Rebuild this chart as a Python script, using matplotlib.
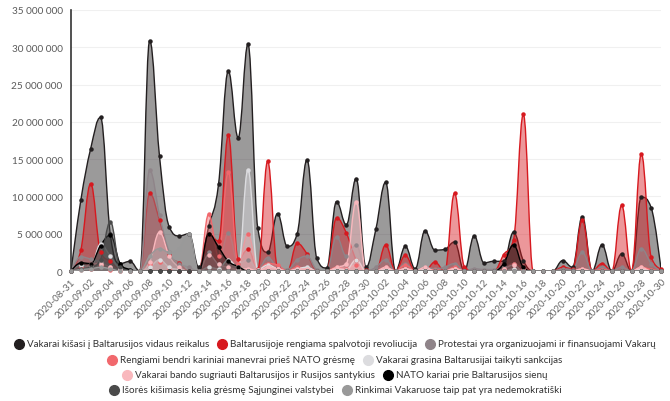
import numpy as np
import matplotlib
matplotlib.use('Agg')
import matplotlib.pyplot as plt
from matplotlib.path import Path
from matplotlib.patches import PathPatch
from matplotlib.lines import Line2D
from matplotlib.ticker import FuncFormatter, MultipleLocator
import pandas as pd

FONT = 'Lato'

# ---------------- data (values in millions) ----------------
dates = pd.date_range('2020-08-31', '2020-10-30', freq='D')
date_labels = [d.strftime('%Y-%m-%d') for d in dates]

series_names = [
    'Vakarai kišasi į Baltarusijos vidaus reikalus',
    'Baltarusijoje rengiama spalvotoji revoliucija',
    'Protestai yra organizuojami ir finansuojami Vakarų',
    'Rengiami bendri kariniai manevrai prieš NATO grėsmę',
    'Vakarai grasina Baltarusijai taikyti sankcijas',
    'Vakarai bando sugriauti Baltarusijos ir Rusijos santykius',
    'NATO kariai prie Baltarusijos sienų',
    'Išorės kišimasis kelia grėsmę Sąjunginei valstybei',
    'Rinkimai Vakaruose taip pat yra nedemokratiški',
]
series_colors = ['#231f20', '#d7191f', '#8f8489', '#f1686d', '#dcdcdf',
                 '#f9b8bd', '#000000', '#4a4a4a', '#999999']

vakarai_kisasi = [0, 9.5, 16.4, 20.6, 4.9, 1.0, 1.3, 0, 30.9, 15.4,
                  5.9, 4.7, 5.0, 0.5, 6.0, 11.6, 26.8, 17.9, 30.4, 5.7,
                  2.5, 7.7, 3.3, 5.0, 14.9, 1.7, 0.4, 9.3, 6.2, 12.4,
                  0.5, 5.6, 11.9, 0, 3.3, 0.3, 5.4, 2.8, 2.9, 3.9,
                  0, 4.7, 1.1, 1.3, 1.3, 5.2, 1.4, 0, 0, 0,
                  1.4, 0.5, 7.3, 0, 3.5, 0, 2.3, 0, 9.9, 8.5, 0.2]
spalvotoji_revoliucija = [0, 2.8, 11.7, 2.6, 1.3, 0.2, 0, 0, 10.4, 6.8,
                          2.2, 1.1, 0, 0, 5.0, 4.0, 18.2, 1.6, 2.9, 0.3,
                          14.7, 0.5, 0, 3.7, 2.3, 0, 0, 7.1, 5.1, 1.5,
                          0.2, 0, 3.5, 0, 2.1, 0, 0, 1.2, 0, 10.4,
                          0.6, 0, 0, 0, 2.2, 4.2, 21.0, 0, 0, 0,
                          0.5, 0.3, 6.8, 0, 1.0, 0, 8.8, 0, 15.7, 1.9, 0.3]
protestai = [0, 1.9, 1.6, 1.2, 0.5, 0.2, 0, 0, 13.5, 7.5,
             2.5, 1.0, 0.5, 0, 2.5, 1.0, 5.1, 1.0, 1.5, 0.2,
             1.8, 0.5, 0.2, 1.5, 2.0, 0.2, 0, 4.6, 2.0, 3.5,
             0, 0.5, 1.5, 0, 1.0, 0, 0.5, 0.3, 0.5, 1.0,
             0, 0.3, 0.2, 0.2, 0.5, 1.0, 0.3, 0, 0, 0,
             0.3, 0.2, 2.5, 0, 0.5, 0, 0.5, 0, 3.0, 1.0, 0]
kariniai_manevrai = [0, 0.5, 0.3, 0.8, 0.2, 0, 0, 0, 1.0, 1.2,
                     0.3, 0, 0, 0, 7.6, 2.0, 13.3, 1.0, 5.0, 0.2,
                     1.0, 0.8, 0, 0.5, 0.3, 0, 0, 0.5, 0.3, 0.8,
                     0, 0, 0.5, 0, 0.8, 0, 0, 0.2, 0, 0.5,
                     0, 0, 0, 0, 0.3, 1.0, 0.3, 0, 0, 0,
                     0, 0, 0.3, 0, 0.2, 0, 0, 0, 0.5, 0.2, 0]
sankcijos = [0, 0.8, 0.5, 3.6, 2.0, 0.3, 0, 0, 0.5, 1.5,
             0.5, 0.2, 0, 0, 0.5, 0.3, 1.5, 0.5, 13.6, 0.2,
             0.8, 0.3, 0, 0.3, 0.5, 0, 0, 0.3, 0.2, 1.5,
             0, 0, 0.3, 0, 0.3, 0, 0.2, 0, 0, 0.3,
             0, 0, 0, 0, 0, 0.3, 0, 0, 0, 0,
             0, 0, 0.2, 0, 0, 0, 0, 0, 0.3, 0, 0]
santykiai = [0, 0.2, 0.9, 1.0, 0.5, 0, 0, 0, 1.2, 5.2,
             2.0, 0.5, 0, 0, 2.2, 0.9, 0.5, 0.2, 0.3, 0,
             0.5, 0.3, 0, 0.2, 0.3, 0, 0, 0.5, 1.0, 9.3,
             0, 0, 0.5, 0, 0.3, 0, 0.5, 0, 0, 0.3,
             0, 0, 0, 0, 0.3, 0.8, 0, 0, 0, 0,
             0, 0, 0.3, 0, 0, 0, 0, 0, 0.5, 0, 0]
nato_kariai = [0, 1.1, 1.0, 3.4, 4.8, 1.0, 0.2, 0, 0, 0,
               0, 0, 0, 0, 5.0, 3.2, 1.3, 0.6, 0, 0,
               0, 0, 0, 0, 0, 0, 0, 0, 0, 0,
               0, 0, 0, 0, 0, 0, 0, 0, 0, 0,
               0, 0, 0, 0, 1.0, 3.5, 0.5, 0, 0, 0,
               0, 0, 0, 0, 0, 0, 0, 0, 0, 0, 0]
isores_kisimasis = [0, 0.3, 0.5, 1.5, 6.6, 0.5, 0, 0, 0, 0,
                    0, 0, 0, 0, 0, 0, 0, 0, 0, 0,
                    0, 0, 0, 0, 0, 0, 0, 0, 0, 0,
                    0, 0, 0, 0, 0, 0, 0, 0, 0, 0,
                    0, 0, 0, 0, 0, 0, 0, 0, 0, 0,
                    0, 0, 0, 0, 0, 0, 0, 0, 0, 0, 0]
rinkimai = [0, 0.2, 0.3, 0.5, 0.3, 0, 0, 0, 2.0, 3.0,
            2.5, 3.0, 5.0, 0, 0, 0, 0, 0, 0, 0,
            0, 0, 0, 0, 0, 0, 0, 0, 0, 0,
            0, 0, 0, 0, 0, 0, 0, 0, 0, 0,
            0, 0, 0, 0, 0, 0, 0, 0, 0, 0,
            0, 0, 0, 0, 0, 0, 0, 0, 0, 0, 0]

all_series = [vakarai_kisasi, spalvotoji_revoliucija, protestai, kariniai_manevrai,
              sankcijos, santykiai, nato_kariai, isores_kisimasis, rinkimai]

legend_rows = [[0, 1, 2], [3, 4], [5, 6], [7, 8]]


# ---------------- helpers ----------------
def spline_segments(xs, ys, smoothing=1.5):
    n = len(xs)
    den = smoothing + 1
    L, R = [], []
    for i in range(n):
        px, py = xs[i], ys[i]
        if i == 0 or i == n - 1:
            L.append((px, py)); R.append((px, py)); continue
        lx, ly = xs[i - 1], ys[i - 1]
        nx, ny = xs[i + 1], ys[i + 1]
        lcx = (smoothing * px + lx) / den
        lcy = (smoothing * py + ly) / den
        rcx = (smoothing * px + nx) / den
        rcy = (smoothing * py + ny) / den
        if rcx != lcx:
            corr = (rcy - lcy) * (rcx - px) / (rcx - lcx) + py - rcy
            lcy += corr; rcy += corr
            if lcy > ly and lcy > py:
                lcy = max(ly, py); rcy = 2 * py - lcy
            elif lcy < ly and lcy < py:
                lcy = min(ly, py); rcy = 2 * py - lcy
            if rcy > ny and rcy > py:
                rcy = max(ny, py); lcy = 2 * py - rcy
            elif rcy < ny and rcy < py:
                rcy = min(ny, py); lcy = 2 * py - rcy
        L.append((lcx, lcy)); R.append((rcx, rcy))
    verts = [(xs[0], ys[0])]
    codes = [Path.MOVETO]
    for i in range(1, n):
        verts += [R[i - 1], L[i], (xs[i], ys[i])]
        codes += [Path.CURVE4] * 3
    return verts, codes


# ---------------- figure ----------------
W, H = 670, 402
fig = plt.figure(figsize=(W / 100, H / 100), dpi=100)
ax_l, ax_r, ax_t, ax_b = 71, 661, 11, 272
ax = fig.add_axes([ax_l / W, 1 - ax_b / H, (ax_r - ax_l) / W, (ax_b - ax_t) / H])

x = np.arange(len(dates))
for k, (vals, col) in enumerate(zip(all_series, series_colors)):
    y = np.array(vals) * 1e6
    verts, codes = spline_segments(list(x), list(y))
    fverts = verts + [(x[-1], 0), (x[0], 0), (x[0], 0)]
    fcodes = codes + [Path.LINETO, Path.LINETO, Path.CLOSEPOLY]
    ax.add_patch(PathPatch(Path(fverts, fcodes), facecolor=col, alpha=0.45,
                           edgecolor='none', zorder=2 + k * 0.1))
    ax.add_patch(PathPatch(Path(verts, codes), facecolor='none', edgecolor=col,
                           lw=1.0, zorder=2.05 + k * 0.1))
    ax.plot(x, y, ls='none', marker='o', ms=2.2, color=col, mec=col,
            zorder=5 + k * 0.1, clip_on=False)

ax.set_xlim(0, len(dates) - 1)
ax.set_ylim(0, 35e6)
ax.yaxis.set_major_locator(MultipleLocator(5e6))
ax.yaxis.set_major_formatter(FuncFormatter(lambda v, p: f'{int(v):,}'.replace(',', ' ')))
ax.set_xticks(x[::2])
ax.set_xticklabels(date_labels[::2], rotation=45, ha='right', rotation_mode='anchor',
                   fontsize=7.0, color='#666666', family=FONT)
for lab in ax.get_yticklabels():
    lab.set_fontsize(7.2); lab.set_color('#5a5a5a'); lab.set_family(FONT)
ax.tick_params(axis='x', length=0, pad=4)
ax.tick_params(axis='y', length=0, pad=6)
ax.grid(axis='y', color='#f0f0f0', lw=0.8, zorder=0)
ax.set_axisbelow(True)
for s in ['top', 'right', 'bottom']:
    ax.spines[s].set_visible(False)
ax.spines['left'].set_color('#333333')
ax.spines['left'].set_linewidth(1.2)

# ---------------- legend ----------------
fig.canvas.draw()
renderer = fig.canvas.get_renderer()
row_y = [345, 361, 376, 391]
leg_fs = 7.1
mk_d = 10
gap = 3
spacing = 8
for r, items in enumerate(legend_rows):
    texts = []
    widths = []
    for i in items:
        t = fig.text(0, 0, series_names[i], fontsize=leg_fs, color='#333333', family=FONT,
                     va='center', ha='left')
        bb = t.get_window_extent(renderer)
        texts.append(t)
        widths.append(bb.width)
    total = sum(mk_d + gap + w for w in widths) + spacing * (len(items) - 1)
    x0 = (W - total) / 2
    yy = 1 - row_y[r] / H
    for t, w, i in zip(texts, widths, items):
        fig.add_artist(Line2D([(x0 + mk_d / 2) / W], [yy], marker='o', ms=7,
                              color=series_colors[i], mec=series_colors[i], ls='none',
                              transform=fig.transFigure))
        t.set_position(((x0 + mk_d + gap) / W, yy))
        x0 += mk_d + gap + w + spacing

fig.savefig('out.png', dpi=100)
